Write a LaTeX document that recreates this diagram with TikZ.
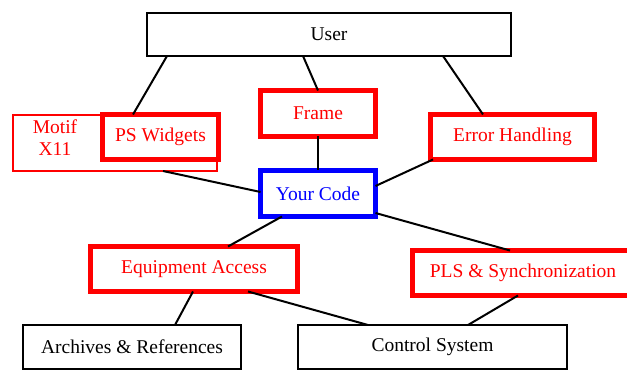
\documentclass[tikz,border=0pt]{standalone}
\usepackage{fontspec}
\setmainfont{Liberation Serif}
\begin{document}
\begin{tikzpicture}[x=1pt,y=-1pt,
  every node/.style={inner sep=0pt, outer sep=0pt, font=\fontsize{19.5}{16}\selectfont},
  plainbox/.style={draw=black, line width=2pt, fill=white, text=black},
  redbox/.style={draw=red, line width=5pt, fill=white, text=red},
  bluebox/.style={draw=blue, line width=5pt, fill=white, text=blue},
  thinred/.style={draw=red, line width=2pt, fill=white},
  tightlbl/.style={text=red, anchor=base},
  link/.style={draw=black, line width=2pt}]
\useasboundingbox (0,0) rectangle (627,371);

% boxes
\node[plainbox, minimum width=364pt, minimum height=43pt] (user) at (329,34.5) {User};
\node[redbox, minimum width=115pt, minimum height=46pt] (frame) at (318,113.5) {Frame};
\node[thinred, minimum width=204pt, minimum height=56pt] (motif) at (115,143) {};
\node[tightlbl] (motiftop) at (55,133.5) {Motif};
\node[tightlbl] (motifbot) at (55,155.5) {X11};
\node[redbox, minimum width=116pt, minimum height=45pt] (psw) at (160.5,137) {PS Widgets};
\node[redbox, minimum width=164pt, minimum height=45pt] (err) at (512.5,137) {Error Handling};
\node[bluebox, minimum width=115pt, minimum height=46pt] (code) at (318,193.5) {Your Code};
\node[redbox, minimum width=207pt, minimum height=45pt] (ea) at (194,269) {Equipment Access};
\node[redbox, minimum width=221pt, minimum height=45pt] (pls) at (523,273) {PLS \& Synchronization};
\node[plainbox, minimum width=218pt, minimum height=44pt] (arch) at (132,347) {Archives \& References};
\node[plainbox, minimum width=269pt, minimum height=44pt] (ctrl) at (432.5,347) {Control System};

% connectors
\draw[link] (user.south -| 167,0) -- (psw.north -| 133,0);
\draw[link] (user.south -| 303,0) -- (frame.north -| 318,0);
\draw[link] (user.south -| 443,0) -- (err.north -| 483,0);
\draw[link] (frame.south) -- (code.north);
\draw[link] (motif.south -| 163,0) -- (code.west |- 0,192);
\draw[link] (code.east |- 0,186) -- (err.south -| 433,0);
\draw[link] (code.south -| 282,0) -- (ea.north -| 228,0);
\draw[link] (code.east |- 0,213) -- (pls.north -| 510,0);
\draw[link] (ea.south -| 193,0) -- (arch.north -| 175,0);
\draw[link] (ea.south -| 248,0) -- (ctrl.north -| 368,0);
\draw[link] (pls.south -| 518,0) -- (ctrl.north -| 468,0);
\end{tikzpicture}
\end{document}
